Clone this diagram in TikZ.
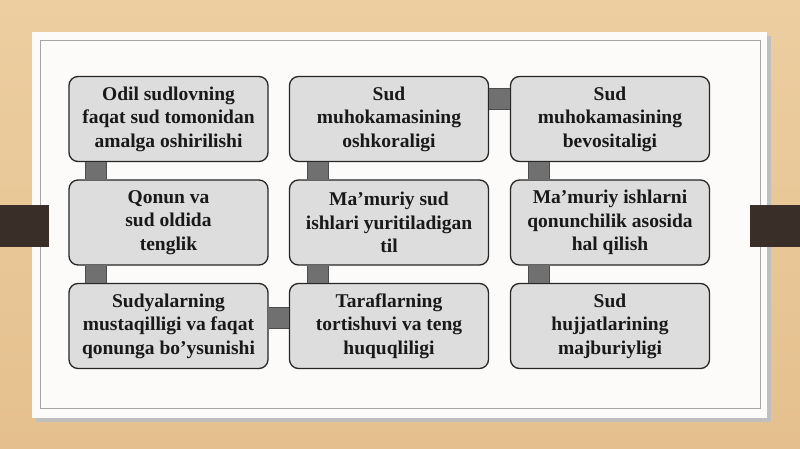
\documentclass[tikz,border=0pt]{standalone}
\usepackage{fontspec}
\setmainfont{Liberation Serif}
\usepackage{tikz}
\usetikzlibrary{positioning}

\definecolor{wood}{RGB}{229,192,142}
\definecolor{woodlight}{RGB}{236,206,160}
\definecolor{panel}{RGB}{252,251,249}
\definecolor{boxgray}{RGB}{221,221,221}
\definecolor{linkgray}{RGB}{112,112,112}
\definecolor{bar}{RGB}{58,46,40}

\begin{document}
\begin{tikzpicture}[x=1pt, y=-1pt,
    item/.style={draw=black!85, line width=1.3pt, rounded corners=9pt, fill=boxgray,
        minimum width=199pt, minimum height=85pt, align=center, text=black!90,
        font=\fontsize{19.5}{23.5}\selectfont\bfseries},
    link/.style={line width=1pt, draw=black!70, double=linkgray, double distance=20pt}]
    \useasboundingbox (0,0) rectangle (800,449);
    \fill[top color=woodlight, bottom color=wood] (0,0) rectangle (800,449);
    \fill[black!25] (36,36) rectangle (771,422);
    \fill[panel] (32,32) rectangle (767,418);
    \draw[black!35, line width=0.8pt] (40,40) rectangle (760,408);
    \fill[bar] (0,205) rectangle (49,247);
    \fill[bar] (750,205) rectangle (800,247);

    \node[item] (b11) at (168.5,119) {Odil sudlovning\\faqat sud tomonidan\\amalga oshirilishi};
    \node[item] (b12) at (389,119) {Sud\\muhokamasining\\oshkoraligi};
    \node[item] (b13) at (610,119) {Sud\\muhokamasining\\bevositaligi};
    \node[item] (b21) at (168.5,222.5) {Qonun va\\sud oldida\\tenglik};
    \node[item] (b22) at (389,222.5) {Ma’muriy sud\\ishlari yuritiladigan\\til};
    \node[item] (b23) at (610,222.5) {Ma’muriy ishlarni\\qonunchilik asosida\\hal qilish};
    \node[item] (b31) at (168.5,326) {Sudyalarning\\mustaqilligi va faqat\\qonunga bo’ysunishi};
    \node[item] (b32) at (389,326) {Taraflarning\\tortishuvi va teng\\huquqliligi};
    \node[item] (b33) at (610,326) {Sud\\hujjatlarining\\majburiyligi};

    \draw[link] ([xshift=28pt]b11.south west) -- ([xshift=28pt]b21.north west);
    \draw[link] ([xshift=28pt]b21.south west) -- ([xshift=28pt]b31.north west);
    \draw[link] ([yshift=8.5pt]b31.east) -- ([yshift=8.5pt]b32.west);
    \draw[link] ([xshift=29.5pt]b32.north west) -- ([xshift=29.5pt]b22.south west);
    \draw[link] ([xshift=29.5pt]b22.north west) -- ([xshift=29.5pt]b12.south west);
    \draw[link] ([yshift=19.5pt]b12.east) -- ([yshift=19.5pt]b13.west);
    \draw[link] ([xshift=29.5pt]b13.south west) -- ([xshift=29.5pt]b23.north west);
    \draw[link] ([xshift=29.5pt]b23.south west) -- ([xshift=29.5pt]b33.north west);
\end{tikzpicture}
\end{document}
